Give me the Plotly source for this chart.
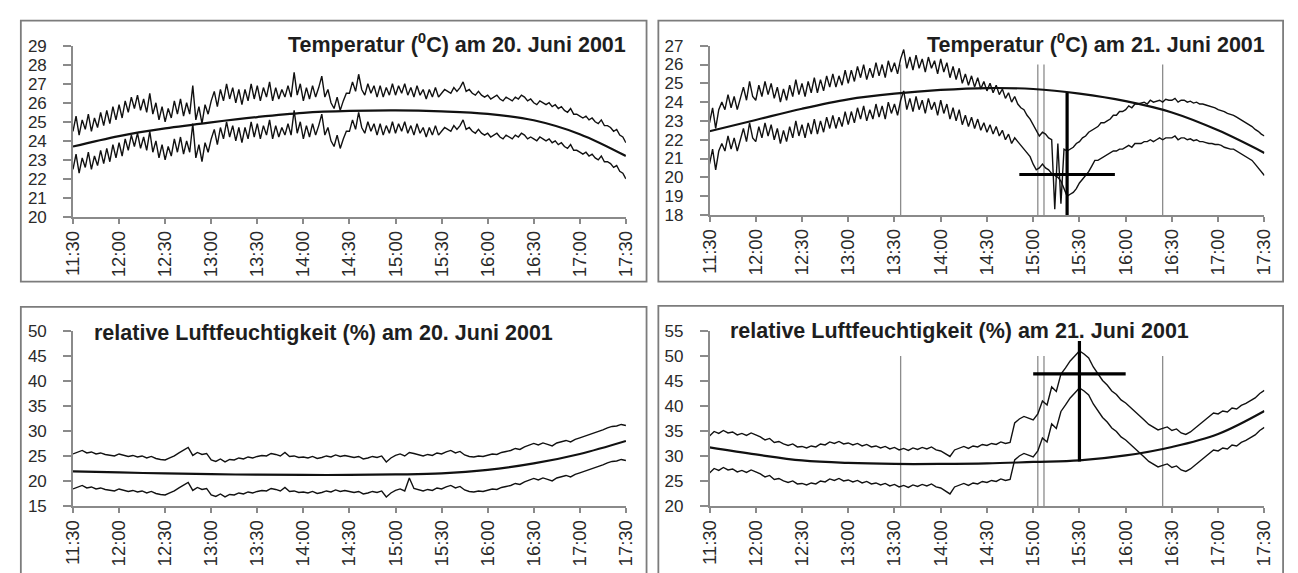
import plotly.graph_objects as go

FIG_W, FIG_H = 1298, 573

# ---- time axis -------------------------------------------------------------
tick_labels = ["11:30", "12:00", "12:30", "13:00", "13:30", "14:00", "14:30",
               "15:00", "15:30", "16:00", "16:30", "17:00", "17:30"]


def to_min(hhmm):
    h, m = hhmm.split(":")
    return int(h) * 60 + int(m)


tick_vals = [to_min(s) for s in tick_labels]
t_start, t_end = tick_vals[0], tick_vals[-1]
temp_times = list(range(t_start, t_end + 1, 2))   # 2-minute logger interval
rh_times = list(range(t_start, t_end + 1, 3))     # 3-minute logger interval

# ---- temperature, 20 June 2001 (deg C) -------------------------------------
temp20_upper = [
    24.5, 25.3, 24.3, 25.1, 24.6, 25.4, 24.5, 25.2, 24.7, 25.5,
    24.8, 25.6, 24.9, 25.8, 25.1, 25.9, 25.2, 26.1, 25.5, 26.3,
    25.7, 26.4, 25.6, 26.2, 25.5, 26.5, 25.4, 26.0, 25.1, 25.8,
    25.0, 25.7, 25.2, 26.1, 25.4, 26.2, 25.3, 26.0, 25.4, 26.9,
    25.1, 25.8, 24.9, 25.9, 25.4, 26.1, 26.6, 25.8, 26.7, 26.1,
    27.0, 26.2, 26.8, 26.0, 26.7, 25.9, 26.7, 26.1, 27.0, 26.2,
    26.9, 26.1, 26.8, 26.3, 27.1, 26.1, 26.8, 26.2, 26.7, 26.3,
    26.9, 26.3, 27.6, 26.4, 27.0, 26.1, 26.8, 26.2, 26.9, 26.3,
    26.8, 27.4, 26.3, 26.7, 26.0, 25.7, 26.3, 25.6, 26.1, 26.5,
    26.5, 27.1, 26.6, 27.5, 26.7, 26.4, 27.0, 26.5, 26.9, 26.3,
    26.9, 26.3, 26.8, 26.4, 27.0, 26.4, 26.9, 26.5, 27.0, 26.4,
    26.8, 26.3, 26.9, 26.4, 26.7, 26.2, 26.7, 26.3, 26.8, 26.3,
    26.5, 26.7, 26.6, 26.5, 26.8, 26.6, 26.8, 27.1, 26.6, 26.7,
    26.5, 26.4, 26.6, 26.4, 26.3, 26.4, 26.2, 26.3, 26.4, 26.2,
    26.1, 26.3, 26.2, 26.1, 26.3, 26.2, 26.4, 26.3, 26.1, 26.2,
    26.0, 25.9, 26.1, 26.0, 25.9, 26.0, 25.8, 25.9, 25.7, 25.8,
    25.6, 25.5, 25.7, 25.4, 25.4, 25.3, 25.2, 25.3, 25.1, 25.2,
    25.0, 24.9, 25.1, 24.8, 24.8, 24.7, 24.5, 24.6, 24.3, 24.2,
    23.9,
]
temp20_lower = [
    22.5, 23.3, 22.3, 23.1, 22.6, 23.4, 22.5, 23.2, 22.7, 23.5,
    22.8, 23.6, 22.9, 23.8, 23.1, 23.9, 23.2, 24.1, 23.5, 24.3,
    23.7, 24.4, 23.6, 24.2, 23.5, 24.5, 23.4, 24.0, 23.1, 23.8,
    23.0, 23.7, 23.2, 24.1, 23.4, 24.2, 23.3, 24.0, 23.4, 24.9,
    23.1, 23.8, 22.9, 23.9, 23.4, 24.1, 24.6, 23.8, 24.7, 24.1,
    25.0, 24.2, 24.8, 24.0, 24.7, 23.9, 24.7, 24.1, 25.0, 24.2,
    24.9, 24.1, 24.8, 24.3, 25.1, 24.1, 24.8, 24.2, 24.7, 24.3,
    24.9, 24.3, 25.6, 24.4, 25.0, 24.1, 24.8, 24.2, 24.9, 24.3,
    24.8, 25.4, 24.3, 24.7, 24.0, 23.7, 24.3, 23.6, 24.1, 24.5,
    24.5, 25.1, 24.6, 25.5, 24.7, 24.4, 25.0, 24.5, 24.9, 24.3,
    24.9, 24.3, 24.8, 24.4, 25.0, 24.4, 24.9, 24.5, 25.0, 24.4,
    24.8, 24.3, 24.9, 24.4, 24.7, 24.2, 24.7, 24.3, 24.8, 24.3,
    24.5, 24.7, 24.6, 24.5, 24.8, 24.6, 24.8, 25.1, 24.6, 24.7,
    24.5, 24.4, 24.6, 24.4, 24.3, 24.4, 24.2, 24.3, 24.4, 24.2,
    24.1, 24.3, 24.2, 24.1, 24.3, 24.2, 24.4, 24.3, 24.1, 24.2,
    24.1, 24.0, 24.2, 24.1, 24.0, 24.1, 23.9, 24.0, 23.8, 23.9,
    23.7, 23.6, 23.8, 23.5, 23.5, 23.4, 23.3, 23.4, 23.2, 23.3,
    23.1, 23.0, 23.2, 22.9, 22.9, 22.8, 22.6, 22.7, 22.4, 22.3,
    22.0,
]
temp20_trend = [23.7, 24.25, 24.65, 24.97, 25.25, 25.47, 25.57,
                25.6, 25.55, 25.42, 25.08, 24.35, 23.2]

# ---- temperature, 21 June 2001 (deg C) -------------------------------------
temp21_upper = [
    22.9, 23.7, 22.6, 23.6, 24.0, 23.6, 24.4, 23.7, 24.3, 23.6,
    24.2, 24.8, 24.1, 25.1, 24.3, 24.1, 24.9, 24.3, 25.1, 24.4,
    25.0, 24.2, 24.8, 24.0, 24.7, 24.1, 24.9, 24.3, 25.2, 24.4,
    25.0, 24.3, 25.1, 24.5, 25.3, 24.5, 25.2, 24.6, 25.4, 24.8,
    25.5, 24.8, 25.4, 24.9, 25.7, 25.0, 25.7, 25.1, 25.9, 25.3,
    26.0, 25.2, 25.8, 25.3, 26.1, 25.4, 26.0, 25.3, 26.2, 25.6,
    26.1, 25.5, 26.3, 26.8, 25.8, 26.4, 25.7, 26.5, 25.8, 26.3,
    25.6, 26.4, 25.8, 26.2, 25.5, 26.3, 25.6, 26.1, 25.3, 25.9,
    25.2, 25.8, 25.0, 25.5, 24.9, 25.4, 24.8, 25.3, 24.7, 25.1,
    24.6, 25.0, 24.5, 24.9, 24.4, 24.7, 24.2, 24.5, 24.0, 24.3,
    23.9, 23.7, 23.6, 23.3, 23.1, 22.8, 22.5, 22.2, 22.4, 22.3,
    22.1, 22.0, 18.3, 21.8, 18.6, 21.5, 21.4, 21.5, 21.6, 21.8,
    21.9, 22.1, 22.2, 22.4, 22.5, 22.6, 22.7, 22.9, 22.9, 23.0,
    23.1, 23.3, 23.3, 23.5, 23.5, 23.6, 23.8, 23.7, 23.9, 23.9,
    23.95, 24.0, 23.9, 24.1, 24.0, 24.05, 24.1, 24.0, 24.15, 24.1,
    24.1, 24.2, 24.0, 24.1, 24.1, 24.0, 24.05, 23.95, 24.0, 23.9,
    23.9, 23.85, 23.8, 23.75, 23.7, 23.6, 23.55, 23.5, 23.4, 23.35,
    23.3, 23.2, 23.1, 23.0, 22.9, 22.8, 22.7, 22.55, 22.45, 22.3,
    22.2,
]
temp21_lower = [
    20.7, 21.5, 20.4, 21.4, 21.8, 21.4, 22.2, 21.5, 22.1, 21.4,
    22.0, 22.6, 21.9, 22.9, 22.1, 21.9, 22.7, 22.1, 22.9, 22.2,
    22.8, 22.0, 22.6, 21.8, 22.5, 21.9, 22.7, 22.1, 23.0, 22.2,
    22.8, 22.1, 22.9, 22.3, 23.1, 22.3, 23.0, 22.4, 23.2, 22.6,
    23.3, 22.6, 23.2, 22.7, 23.5, 22.8, 23.5, 22.9, 23.7, 23.1,
    23.8, 23.0, 23.6, 23.1, 23.9, 23.2, 23.8, 23.1, 24.0, 23.4,
    23.9, 23.3, 24.1, 24.6, 23.6, 24.2, 23.5, 24.3, 23.6, 24.1,
    23.4, 24.2, 23.6, 24.0, 23.3, 24.1, 23.4, 23.9, 23.1, 23.7,
    23.0, 23.6, 22.8, 23.3, 22.7, 23.2, 22.6, 23.1, 22.5, 22.9,
    22.4, 22.8, 22.3, 22.7, 22.2, 22.5, 22.0, 22.3, 21.8, 22.1,
    21.9, 21.7, 21.5, 21.3, 21.1, 20.7, 20.4, 20.5, 20.7, 20.5,
    20.4, 20.2, 20.1, 20.0, 19.8, 19.4, 19.0, 19.1, 19.2, 19.4,
    19.7, 19.9, 20.1, 20.3, 20.6, 20.9, 20.9, 21.0, 21.1, 21.2,
    21.3, 21.4, 21.4, 21.5, 21.5, 21.6, 21.7, 21.6, 21.8, 21.8,
    21.8, 21.9, 21.9, 22.0, 21.9, 22.0, 22.1, 22.0, 22.1, 22.1,
    22.1, 22.2, 22.0, 22.1, 22.1, 22.0, 22.05, 21.95, 22.0, 21.9,
    21.9, 21.85, 21.8, 21.8, 21.75, 21.75, 21.7, 21.6, 21.55, 21.5,
    21.5, 21.4, 21.3, 21.2, 21.1, 21.0, 20.9, 20.7, 20.5, 20.3,
    20.1,
]
temp21_trend = [22.45, 23.05, 23.65, 24.15, 24.45, 24.65, 24.75,
                24.7, 24.45, 24.05, 23.45, 22.5, 21.3]

# ---- relative humidity, 20 June 2001 (%) -----------------------------------
rh20_upper = [
    25.4, 25.8, 26.1, 25.6, 25.8, 25.4, 25.6, 25.3, 25.2, 25.0,
    25.4, 25.2, 24.9, 25.1, 24.8, 25.0, 24.6, 24.9, 24.5, 24.3,
    24.2, 24.6, 25.0, 25.6, 26.1, 26.7, 25.1, 25.7, 25.3, 25.5,
    24.2, 23.9, 24.4, 23.8, 24.3, 24.2, 24.6, 24.4, 24.8, 24.6,
    24.9, 25.1, 25.0, 25.5, 25.3, 25.0, 25.7, 24.9, 25.0, 24.7,
    24.8, 24.6, 24.9, 24.5, 24.7, 25.0, 24.8, 25.2, 24.9, 25.1,
    24.9, 24.7, 24.9, 24.4, 24.6, 24.9, 24.7, 25.0, 23.8, 24.6,
    25.1, 25.4, 25.0, 25.7, 25.5, 25.2, 25.0, 25.3, 25.1, 25.6,
    25.4, 25.8, 26.1, 25.6, 25.9, 25.2, 24.9, 24.8, 25.0, 24.9,
    25.1, 25.4, 25.3, 25.7, 25.9, 26.1, 26.5, 26.3, 26.8, 27.1,
    27.5, 27.2, 27.6, 27.3, 27.0, 27.6, 27.9, 28.1, 27.8, 28.3,
    28.6, 28.9, 29.3, 29.5, 29.8, 30.2, 30.6, 30.9, 31.0, 31.3,
    31.1,
]
rh20_lower = [
    18.4, 18.8, 19.1, 18.6, 18.8, 18.4, 18.6, 18.3, 18.2, 18.0,
    18.4, 18.2, 17.9, 18.1, 17.8, 18.0, 17.6, 17.9, 17.5, 17.3,
    17.2, 17.6, 18.0, 18.6, 19.1, 19.7, 18.1, 18.7, 18.3, 18.5,
    17.2, 16.9, 17.4, 16.8, 17.3, 17.2, 17.6, 17.4, 17.8, 17.6,
    17.9, 18.1, 18.0, 18.5, 18.3, 18.0, 18.7, 17.9, 18.0, 17.7,
    17.8, 17.6, 17.9, 17.5, 17.7, 18.0, 17.8, 18.2, 17.9, 18.1,
    17.9, 17.7, 17.9, 17.4, 17.6, 17.9, 17.7, 18.0, 16.8, 17.6,
    18.1, 18.4, 18.0, 20.6, 18.5, 18.2, 18.0, 18.3, 18.1, 18.6,
    18.4, 18.8, 19.1, 18.6, 18.9, 18.2, 17.9, 17.8, 18.0, 17.9,
    18.1, 18.4, 18.3, 18.7, 18.9, 19.1, 19.5, 19.3, 19.8, 20.1,
    20.5, 20.2, 20.6, 20.3, 20.0, 20.6, 20.9, 21.1, 20.8, 21.3,
    21.6, 21.9, 22.3, 22.5, 22.8, 23.2, 23.6, 23.9, 24.0, 24.3,
    24.1,
]
rh20_trend = [21.9, 21.7, 21.5, 21.35, 21.25, 21.2, 21.2,
              21.3, 21.5, 22.2, 23.5, 25.4, 28.0]

# ---- relative humidity, 21 June 2001 (%) -----------------------------------
rh21_upper = [
    34.0, 34.9, 34.5, 35.1, 34.6, 34.8, 34.2, 34.5, 34.1, 34.6,
    34.2, 33.8, 33.2, 33.5, 32.7, 32.9, 32.4, 32.1, 32.4, 31.8,
    31.9, 31.6, 32.0, 31.8, 32.4, 32.2, 32.8, 32.5, 32.9, 32.4,
    32.6, 32.2, 32.5, 32.0, 32.3, 31.8, 32.0, 31.6, 31.9, 31.4,
    31.7, 31.2, 31.5, 31.1, 31.6, 31.3, 31.7, 31.4, 31.8, 31.2,
    31.0, 30.4, 29.9, 31.2, 31.6, 31.9, 31.5, 32.0, 31.8, 32.3,
    32.1, 32.5, 32.3, 32.8, 32.5, 32.7, 36.6, 37.4, 37.9, 37.5,
    37.2, 38.4, 41.0, 40.2, 43.8, 42.9, 46.4, 47.6, 49.0, 50.0,
    51.0, 50.4, 49.6, 47.8, 46.4, 45.1, 44.2, 43.0, 42.3, 41.2,
    40.6, 39.8, 38.9, 38.0, 37.2, 36.3, 35.7, 35.2, 35.5, 35.8,
    35.1, 35.4, 34.6, 34.3, 34.8, 35.6, 36.3, 37.1, 37.8, 38.6,
    38.4, 39.0, 38.8, 39.6, 39.4, 40.1, 40.5, 41.0, 41.6, 42.5,
    43.1,
]
rh21_lower = [
    26.6, 27.5, 27.1, 27.7, 27.2, 27.4, 26.8, 27.1, 26.7, 27.2,
    26.8, 26.4, 25.8, 26.1, 25.3, 25.5, 25.0, 24.7, 25.0, 24.4,
    24.5, 24.2, 24.6, 24.4, 25.0, 24.8, 25.4, 25.1, 25.5, 25.0,
    25.2, 24.8, 25.1, 24.6, 24.9, 24.4, 24.6, 24.2, 24.5, 24.0,
    24.3, 23.8, 24.1, 23.7, 24.2, 23.9, 24.3, 24.0, 24.4, 23.8,
    23.6, 23.0, 22.4, 23.8, 24.2, 24.5, 24.1, 24.6, 24.4, 24.9,
    24.7, 25.1, 24.9, 25.4, 25.1, 25.3, 29.2, 30.0, 30.5, 30.1,
    29.8, 31.0, 33.6, 32.8, 36.4, 35.5, 38.9, 40.2, 41.6, 42.6,
    43.6, 43.0, 42.2, 40.4, 39.0, 37.7, 36.8, 35.6, 34.9, 33.8,
    33.2, 32.4, 31.5, 30.6, 29.8, 28.9, 28.3, 27.8, 28.1, 28.4,
    27.7, 28.0, 27.2, 26.9, 27.4, 28.2, 28.9, 29.7, 30.4, 31.2,
    31.0, 31.6, 31.4, 32.2, 32.0, 32.7, 33.1, 33.6, 34.2, 35.1,
    35.7,
]
rh21_trend = [31.7, 30.3, 29.1, 28.6, 28.4, 28.4, 28.5,
              28.8, 29.1, 30.1, 31.8, 34.4, 39.0]

# ---- markers on 21 June ----------------------------------------------------
event_times = ["13:34", "15:03", "15:07", "16:24"]
event_temp_range = [18.0, 26.0]
event_rh_range = [20.0, 50.0]

cross_temp_time = "15:22"
cross_temp_span = ["14:51", "15:53"]
cross_temp_level = 20.15
cross_temp_range = [17.9, 24.5]

cross_rh_time = "15:30"
cross_rh_span = ["15:00", "16:00"]
cross_rh_level = 46.4
cross_rh_range = [28.9, 53.0]

titles = [
    "Temperatur (<sup>0</sup>C) am 20. Juni 2001",
    "Temperatur (<sup>0</sup>C) am 21. Juni 2001",
    "relative Luftfeuchtigkeit (%) am 20. Juni 2001",
    "relative Luftfeuchtigkeit (%) am 21. Juni 2001",
]

# ---- layout helpers (pixel positions -> paper fractions) -------------------
def fx(p):
    return p / FIG_W


def fy(p):
    return 1 - p / FIG_H


FONT = "Liberation Sans, Arial, Helvetica, sans-serif"
AXIS_GREY = "#8a8a8a"
BOX_GREY = "#7c7c7c"
INK = "#111111"

panels = [
    # x pixel span, y pixel span (top, bottom), y range, y dtick
    dict(xs=(63, 625), ys=(38, 215), yr=(20, 29), dt=1),
    dict(xs=(710, 1274), ys=(38, 213), yr=(18, 27), dt=1),
    dict(xs=(63, 625), ys=(333, 514), yr=(15, 50), dt=5),
    dict(xs=(710, 1274), ys=(333, 514), yr=(20, 55), dt=5),
]

fig = go.Figure()
layout = dict(
    width=FIG_W, height=FIG_H,
    margin=dict(l=0, r=0, t=0, b=0),
    paper_bgcolor="white", plot_bgcolor="white",
    showlegend=False,
    font=dict(family=FONT, color="#2a2a2a"),
)

for i, p in enumerate(panels):
    k = "" if i == 0 else str(i + 1)
    layout["xaxis" + k] = dict(
        domain=[fx(p["xs"][0]), fx(p["xs"][1])],
        anchor="y" + k,
        range=[t_start, t_end],
        tickvals=tick_vals, ticktext=tick_labels, tickangle=-90,
        showline=True, linecolor=AXIS_GREY, linewidth=1.5,
        ticks="outside", ticklen=5, tickwidth=1.5, tickcolor=AXIS_GREY,
        showgrid=False, zeroline=False,
        tickfont=dict(size=18.5, family=FONT, color="#2a2a2a"),
    )
    layout["yaxis" + k] = dict(
        domain=[fy(p["ys"][1]), fy(p["ys"][0])],
        anchor="x" + k,
        range=list(p["yr"]), dtick=p["dt"], tick0=p["yr"][0],
        showline=True, linecolor=AXIS_GREY, linewidth=1.5,
        ticks="outside", ticklen=8, tickwidth=1.5, tickcolor=AXIS_GREY,
        showgrid=False, zeroline=False,
        ticklabelstandoff=13,
        tickfont=dict(size=17, family=FONT, color="#2a2a2a"),
    )

fig.update_layout(**layout)


def axes(i):
    k = "" if i == 0 else str(i + 1)
    return dict(xaxis="x" + k, yaxis="y" + k)


# thin grey event lines (behind the data)
for i, yr in ((1, event_temp_range), (3, event_rh_range)):
    xs, ys = [], []
    for t in event_times:
        xs += [to_min(t), to_min(t), None]
        ys += [yr[0], yr[1], None]
    fig.add_trace(go.Scatter(x=xs, y=ys, mode="lines",
                             line=dict(color="#8c8c8c", width=1.3),
                             hoverinfo="skip", **axes(i)))

series = [
    (0, temp_times, temp20_upper, temp20_lower, temp20_trend),
    (1, temp_times, temp21_upper, temp21_lower, temp21_trend),
    (2, rh_times, rh20_upper, rh20_lower, rh20_trend),
    (3, rh_times, rh21_upper, rh21_lower, rh21_trend),
]
for i, times, up, lo, trend in series:
    for vals in (up, lo):
        fig.add_trace(go.Scatter(x=times, y=vals, mode="lines",
                                 line=dict(color=INK, width=1.4),
                                 **axes(i)))
    fig.add_trace(go.Scatter(x=tick_vals, y=trend, mode="lines",
                             line=dict(color=INK, width=2.2, shape="spline"),
                             **axes(i)))

# thick crosses marking the minimum temperature / maximum humidity
for i, t, span, level, yr in (
    (1, cross_temp_time, cross_temp_span, cross_temp_level, cross_temp_range),
    (3, cross_rh_time, cross_rh_span, cross_rh_level, cross_rh_range),
):
    fig.add_trace(go.Scatter(
        x=[to_min(span[0]), to_min(span[1]), None, to_min(t), to_min(t)],
        y=[level, level, None, yr[0], yr[1]],
        mode="lines", line=dict(color="black", width=3.2), **axes(i)))

# panel titles
title_pos = [
    dict(x=627, y=35, anchor="right"),
    dict(x=1277, y=35, anchor="right"),
    dict(x=82, y=335, anchor="left"),
    dict(x=729, y=333, anchor="left"),
]
for text, pos in zip(titles, title_pos):
    fig.add_annotation(
        text="<b>" + text + "</b>", xref="paper", yref="paper",
        x=fx(pos["x"]), y=fy(pos["y"]), xanchor=pos["anchor"], yanchor="middle",
        showarrow=False, font=dict(size=21.5, family=FONT, color="#1e1e1e"))

# panel frames
frames = [(10, 12, 646, 282), (658, 12, 1293, 282),
          (10, 308, 646, 640), (658, 307, 1293, 640)]
for x0, y0, x1, y1 in frames:
    fig.add_shape(type="rect", xref="paper", yref="paper",
                  x0=fx(x0), x1=fx(x1), y0=fy(y1), y1=fy(y0),
                  line=dict(color=BOX_GREY, width=1.8), fillcolor="rgba(0,0,0,0)",
                  layer="above")

fig.write_html("out.html")
